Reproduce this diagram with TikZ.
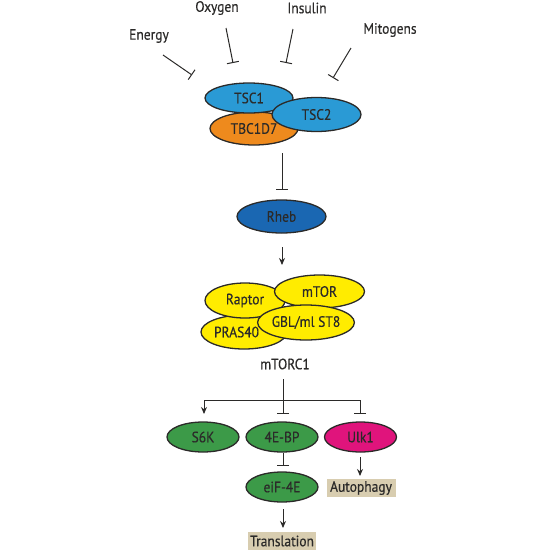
\documentclass[tikz,border=0pt]{standalone}
\usepackage{fontspec}
\setmainfont{PT Sans}[FakeStretch=0.9,FakeBold=0.35]
\usetikzlibrary{shapes.geometric,arrows.meta}
\definecolor{txt}{HTML}{2B2A29}
\definecolor{lblue}{HTML}{2A9AD5}
\definecolor{orng}{HTML}{EE8A1D}
\definecolor{dblue}{HTML}{1A67B2}
\definecolor{yel}{HTML}{FFEC00}
\definecolor{grn}{HTML}{3C9A48}
\definecolor{mag}{HTML}{E0147C}
\definecolor{beige}{HTML}{D8CDB0}
\tikzset{
  prot/.style={ellipse, draw=txt, line width=1.3pt, inner sep=0pt, text=txt, font=\fontsize{15}{16}\selectfont},
  lbl/.style={text=txt, font=\fontsize{15}{16}\selectfont, inner sep=0pt},
  outbox/.style={fill=beige, text=txt, font=\fontsize{15}{16}\selectfont, inner sep=0pt},
  inh/.style={draw=txt, line width=1pt, -{Bar[width=12pt,line width=1pt]}},
  act/.style={draw=txt, line width=1pt, -{Stealth[length=7pt,width=6pt]}},
  conn/.style={draw=txt, line width=1pt}
}
\begin{document}
\begin{tikzpicture}[x=1pt,y=-1pt]
\useasboundingbox (0,0) rectangle (550,550);
% signals
\node[lbl] (energy) at (149,36) {Energy};
\node[lbl] (oxygen) at (217,8) {Oxygen};
\node[lbl] (insulin) at (307,8) {Insulin};
\node[lbl] (mitogens) at (390,30) {Mitogens};
\coordinate (e1) at (163,55); \coordinate (e2) at (192,75);
\coordinate (o1) at (226,28); \coordinate (o2) at (233,63);
\coordinate (i1) at (293,29); \coordinate (i2) at (286,63);
\coordinate (m1) at (351,48); \coordinate (m2) at (333,78);
\draw[inh] (e1) -- (e2);
\draw[inh] (o1) -- (o2);
\draw[inh] (i1) -- (i2);
\draw[inh] (m1) -- (m2);
% TSC complex
\node[prot, fill=orng, minimum width=88pt, minimum height=33pt] (tbc) at (254,128.5) {TBC1D7};
\node[prot, fill=lblue, minimum width=88pt, minimum height=30pt] (tsc1) at (249,98) {TSC1};
\node[prot, fill=lblue, minimum width=89pt, minimum height=34pt] (tsc2) at (316.5,114.5) {TSC2};
% Rheb
\node[prot, fill=dblue, minimum width=89pt, minimum height=33pt] (rheb) at (281.5,216.5) {Rheb};
\coordinate (t1) at (282,153); \coordinate (t2) at (282,190);
\draw[inh] (t1) -- (t2);
\coordinate (r1) at (282,247); \coordinate (r2) at (282,265);
\draw[act] (r1) -- (r2);
% mTORC1
\node[prot, fill=yel, minimum width=86pt, minimum height=34pt] (pras) at (244,332) {\hspace*{-15pt}PRAS40};
\node[prot, fill=yel, minimum width=80pt, minimum height=35pt] (raptor) at (245,300.5) {Raptor};
\node[prot, fill=yel, minimum width=90pt, minimum height=33pt] (mtor) at (319.5,291.5) {mTOR};
\node[prot, fill=yel, minimum width=88pt, minimum height=35pt] (gbl) at (306,322.5) {GBL/ml ST8};
\node[lbl] (mtorc1) at (285,364) {mTORC1};
% branches
\coordinate (b0) at (283,379);
\coordinate (b1) at (283,400);
\coordinate (s6ktop) at (204,414);
\coordinate (ebptop) at (283,414);
\coordinate (ulktop) at (360,414);
\draw[conn] (b0) -- (b1);
\draw[act] (b1) -| (s6ktop);
\draw[inh] (b1) -- (ebptop);
\draw[inh] (b1) -| (ulktop);
\node[prot, fill=grn, minimum width=72pt, minimum height=30pt] (s6k) at (203,437) {S6K};
\node[prot, fill=grn, minimum width=72pt, minimum height=30pt] (ebp) at (282,437) {4E-BP};
\node[prot, fill=mag, minimum width=72pt, minimum height=30pt] (ulk) at (360.5,437) {Ulk1};
\node[prot, fill=grn, minimum width=72pt, minimum height=30pt] (eif) at (282,487) {eiF-4E};
\coordinate (eb1) at (283,453); \coordinate (eb2) at (283,466);
\draw[inh] (eb1) -- (eb2);
\node[outbox, minimum width=69pt, minimum height=18pt] (auto) at (361,488) {Autophagy};
\coordinate (u1) at (360,457); \coordinate (u2) at (360,476);
\draw[act] (u1) -- (u2);
\node[outbox, minimum width=68pt, minimum height=18pt] (trans) at (282,541) {Translation};
\coordinate (f1) at (283,509); \coordinate (f2) at (283,528);
\draw[act] (f1) -- (f2);
\end{tikzpicture}
\end{document}
